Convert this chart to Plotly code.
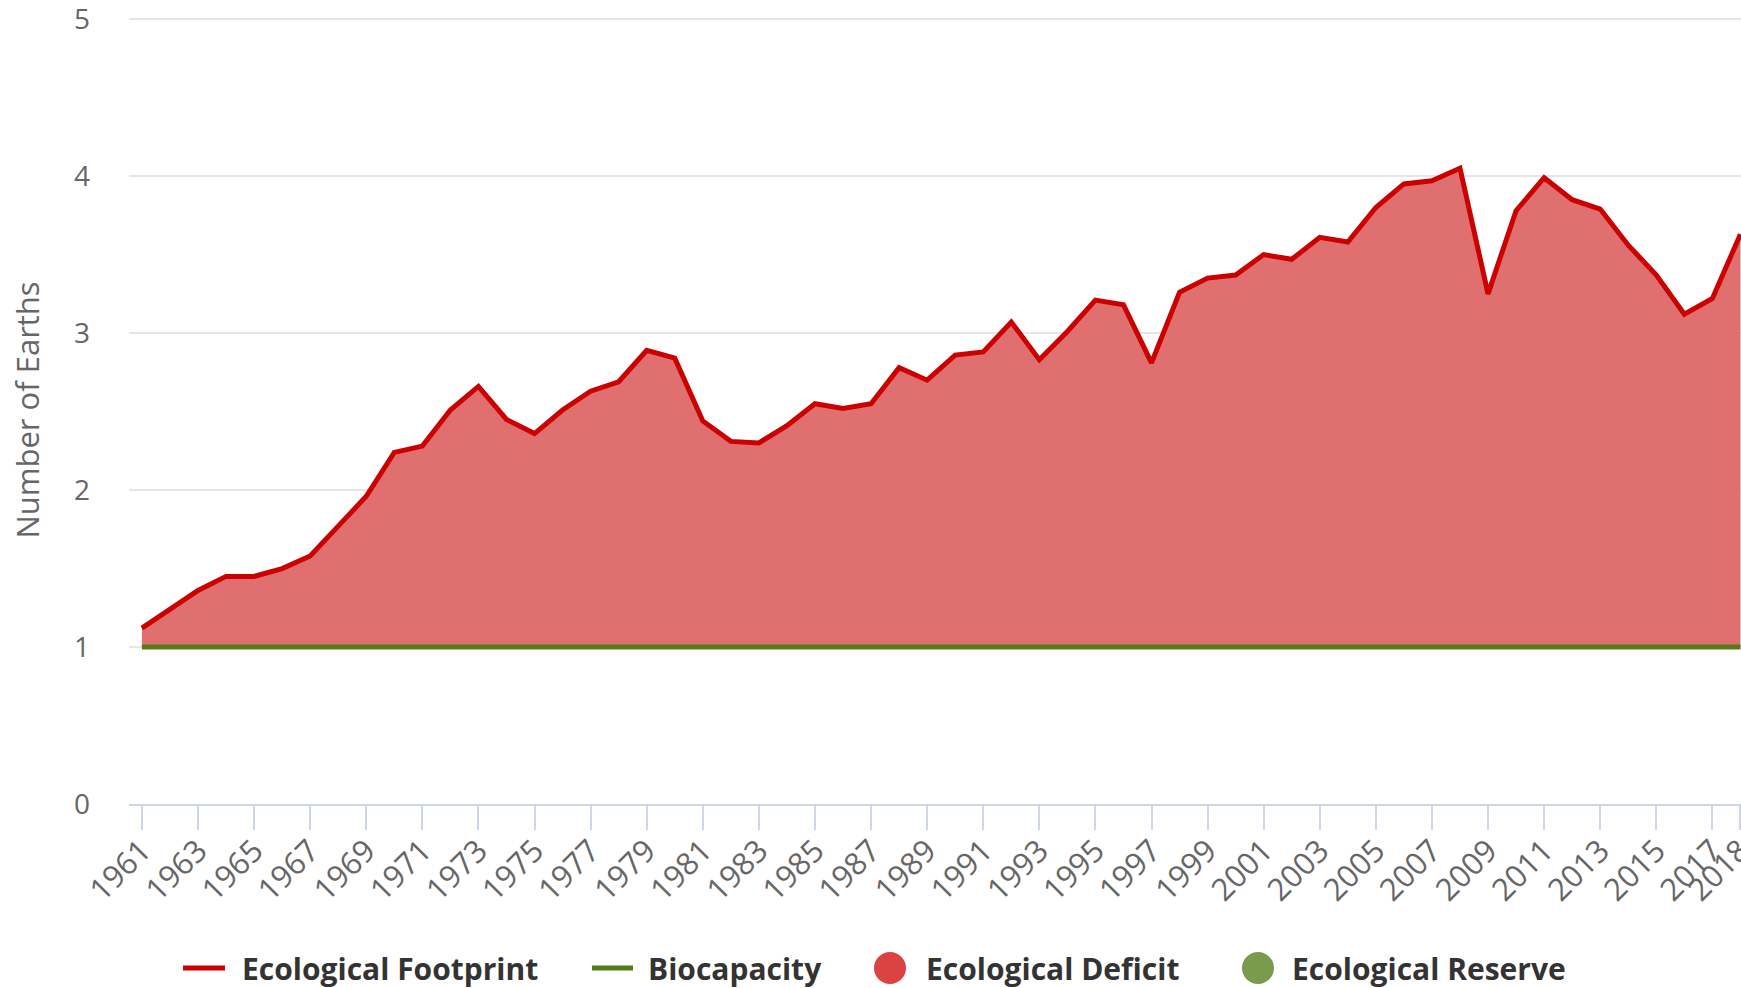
import plotly.graph_objects as go

# Ecological Footprint vs Biocapacity, in number of Earths
years = list(range(1961, 2019))
footprint = [
    1.12, 1.24, 1.36, 1.45, 1.45, 1.50, 1.58, 1.77, 1.96, 2.24,
    2.28, 2.51, 2.66, 2.45, 2.36, 2.51, 2.63, 2.69, 2.89, 2.84,
    2.44, 2.31, 2.30, 2.41, 2.55, 2.52, 2.55, 2.78, 2.70, 2.86,
    2.88, 3.07, 2.83, 3.01, 3.21, 3.18, 2.81, 3.26, 3.35, 3.37,
    3.50, 3.47, 3.61, 3.58, 3.80, 3.95, 3.97, 4.05, 3.25, 3.78,
    3.99, 3.85, 3.79, 3.56, 3.37, 3.12, 3.22, 3.63,
]
biocapacity = [1.0] * len(years)

x_tickvals = list(range(1961, 2018, 2)) + [2018]
y_tickvals = [0, 1, 2, 3, 4, 5]

legend_labels = ["Ecological Footprint", "Biocapacity", "Ecological Deficit", "Ecological Reserve"]

RED_LINE = "#cc0000"
RED_FILL = "#e07070"
GREEN_LINE = "#557a16"
DEFICIT_DOT = "#dd4242"
RESERVE_DOT = "#7a9a4c"
FONT = "Open Sans, Lato, sans-serif"

# plot area in pixels (used to place the hand-made legend)
W, H = 1741, 988
M_L, M_R, M_T, M_B = 129, 0, 16, 184
PW, PH = W - M_L - M_R, H - M_T - M_B


def px_x(px):
    return (px - M_L) / PW


def px_y(py):
    return (H - M_B - py) / PH


fig = go.Figure()

fig.add_trace(go.Scatter(
    x=years, y=biocapacity, name="Biocapacity", mode="lines",
    line=dict(color=GREEN_LINE, width=5), showlegend=False,
    hovertemplate="%{x}<br>Biocapacity: %{y:.2f}<extra></extra>",
))
fig.add_trace(go.Scatter(
    x=years, y=footprint, name="Ecological Footprint", mode="lines",
    line=dict(color=RED_LINE, width=5), fill="tonexty", fillcolor=RED_FILL,
    showlegend=False,
    hovertemplate="%{x}<br>Ecological Footprint: %{y:.2f}<extra></extra>",
))

# Legend drawn by hand so the symbols match the original sizes
legend_y = px_y(968)
shapes = [
    dict(type="line", xref="paper", yref="paper", xsizemode="pixel", ysizemode="pixel",
         xanchor=px_x(183), yanchor=legend_y, x0=0, x1=42, y0=0, y1=0,
         line=dict(color=RED_LINE, width=5)),
    dict(type="line", xref="paper", yref="paper", xsizemode="pixel", ysizemode="pixel",
         xanchor=px_x(592), yanchor=legend_y, x0=0, x1=41, y0=0, y1=0,
         line=dict(color=GREEN_LINE, width=5)),
    dict(type="circle", xref="paper", yref="paper", xsizemode="pixel", ysizemode="pixel",
         xanchor=px_x(890), yanchor=legend_y, x0=-16, x1=16, y0=-16, y1=16,
         fillcolor=DEFICIT_DOT, line=dict(width=0)),
    dict(type="circle", xref="paper", yref="paper", xsizemode="pixel", ysizemode="pixel",
         xanchor=px_x(1258), yanchor=legend_y, x0=-16, x1=16, y0=-16, y1=16,
         fillcolor=RESERVE_DOT, line=dict(width=0)),
]
text_x = [240, 646, 924, 1290]
annotations = [
    dict(text=f"<b>{label}</b>", x=px_x(tx), y=legend_y, xref="paper", yref="paper",
         xanchor="left", yanchor="middle", showarrow=False,
         font=dict(family=FONT, size=30, color="#333333"))
    for label, tx in zip(legend_labels, text_x)
]

fig.update_layout(
    width=W, height=H,
    margin=dict(l=M_L, r=M_R, t=M_T, b=M_B),
    paper_bgcolor="white",
    plot_bgcolor="white",
    showlegend=False,
    shapes=shapes,
    annotations=annotations,
    font=dict(family=FONT, color="#666666"),
)

fig.update_xaxes(
    range=[1960.54, 2018.02],
    tickvals=x_tickvals,
    tickangle=-45,
    ticks="outside", ticklen=24, tickwidth=2, tickcolor="#ccd6eb",
    showline=True, linecolor="#ccd6eb", linewidth=2,
    showgrid=False, zeroline=False,
    ticklabelstandoff=-10,
    ticklabeloverflow="allow",
    automargin=False,
    tickfont=dict(family=FONT, size=31, color="#666666"),
)
fig.update_yaxes(
    # a hair above 5 so the top grid line is drawn inside the plot
    range=[0, 5.02],
    tickvals=y_tickvals,
    showgrid=True, gridcolor="#e6e6e6", gridwidth=2,
    zeroline=False, showline=False,
    ticklabelstandoff=38,
    ticklabeloverflow="allow",
    tickfont=dict(family=FONT, size=28, color="#666666"),
    title=dict(text="Number of Earths", standoff=25,
               font=dict(family=FONT, size=31, color="#666666")),
    automargin=False,
)

# drop the default page margin so the figure fills the window exactly
fig.write_html(
    "out.html",
    config={"displayModeBar": False},
    post_script="document.body.style.margin = '0';",
)
